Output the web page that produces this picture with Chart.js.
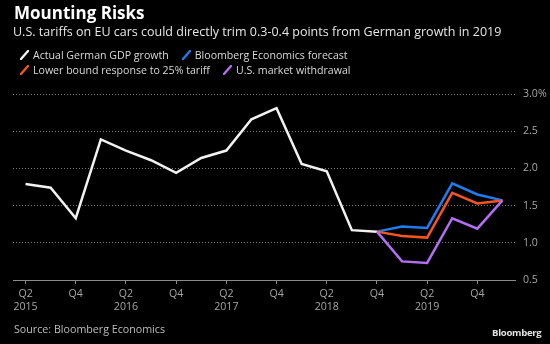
<!DOCTYPE html>
<html>
<head>
<meta charset="utf-8">
<script src="https://cdn.jsdelivr.net/npm/chart.js@4/dist/chart.umd.min.js"></script>
<style>
  html, body { margin:0; padding:0; background:#000; }
  body { width:550px; height:344px; position:relative; overflow:hidden; font-family:"Open Sans", sans-serif; }
  #chart { position:absolute; left:0; top:0; }
  .txt { position:absolute; white-space:nowrap; line-height:1; }
  #title { left:14px; top:4px; font-size:17px; font-weight:700; color:#fff; }
  #subtitle { left:13px; top:26px; font-size:12.5px; color:#e6e6e6; }
  .legRow { position:absolute; left:20px; font-size:10.6px; color:#d9d9d9; line-height:1; white-space:nowrap; }
  .legItem { display:inline-block; margin-right:13px; }
  .legItem svg { vertical-align:-1px; margin-right:4px; }
  #source { left:14px; top:324px; font-size:10.7px; color:#bdbdbd; }
  #brand { left:492px; top:328px; font-size:9.6px; font-weight:700; color:#e0e0e0; letter-spacing:-0.3px; }
</style>
</head>
<body>
<canvas id="chart" width="550" height="344"></canvas>
<div class="txt" id="title">Mounting Risks</div>
<div class="txt" id="subtitle">U.S. tariffs on EU cars could directly trim 0.3-0.4 points from German growth in 2019</div>
<div class="legRow" id="leg1" style="top:50px"></div>
<div class="legRow" id="leg2" style="top:65px"></div>
<div class="txt" id="source">Source: Bloomberg Economics</div>
<div class="txt" id="brand">Bloomberg</div>

<script>
// quarters Q2 2015 .. Q1 2020
const quarters = [
  "Q2 2015","Q3 2015","Q4 2015",
  "Q1 2016","Q2 2016","Q3 2016","Q4 2016",
  "Q1 2017","Q2 2017","Q3 2017","Q4 2017",
  "Q1 2018","Q2 2018","Q3 2018","Q4 2018",
  "Q1 2019","Q2 2019","Q3 2019","Q4 2019",
  "Q1 2020"
];

// year-on-year GDP growth, %
const actualGdp = [1.79, 1.74, 1.33, 2.39, 2.24, 2.11, 1.94, 2.14, 2.24, 2.66, 2.81, 2.06, 1.96, 1.17, 1.15,
                   null, null, null, null, null];
const beForecast = [null, null, null, null, null, null, null, null, null, null, null, null, null, null,
                    1.15, 1.22, 1.20, 1.80, 1.65, 1.57];
const lowerBound = [null, null, null, null, null, null, null, null, null, null, null, null, null, null,
                    1.15, 1.09, 1.07, 1.67, 1.53, 1.57];
const usWithdrawal = [null, null, null, null, null, null, null, null, null, null, null, null, null, null,
                      1.15, 0.75, 0.73, 1.33, 1.19, 1.57];

const yTicks = [0.5, 1.0, 1.5, 2.0, 2.5, 3.0];

const series = [
  { name: "Actual German GDP growth",           data: actualGdp,    color: "#f2f2f2", row: 1, order: 3 },
  { name: "Bloomberg Economics forecast",       data: beForecast,   color: "#1f7cf0", row: 1, order: 2 },
  { name: "Lower bound response to 25% tariff", data: lowerBound,   color: "#f4541f", row: 2, order: 1 },
  { name: "U.S. market withdrawal",             data: usWithdrawal, color: "#b36ff2", row: 2, order: 0 },
];

// legend: little slash swatches like the terminal charts
function slash(color){
  return `<svg width="9" height="10" viewBox="0 0 9 10"><line x1="1" y1="9" x2="8" y2="1" stroke="${color}" stroke-width="2.4" stroke-linecap="round"/></svg>`;
}
for (const s of series){
  const row = document.getElementById("leg" + s.row);
  row.insertAdjacentHTML("beforeend", `<span class="legItem">${slash(s.color)}${s.name}</span>`);
}

const GRID = "#7a7a7a";
const AXIS = "#8a8a8a";
const TICK_TXT = "#a6a6a6";
const font = { family: "'Open Sans', sans-serif", size: 10.6 };

new Chart(document.getElementById("chart"), {
  type: "line",
  data: {
    labels: quarters,
    datasets: series.map(s => ({
      label: s.name,
      data: s.data,
      borderColor: s.color,
      borderWidth: 2.5,
      pointRadius: 0,
      tension: 0,
      order: s.order,
      borderJoinStyle: "miter",
    }))
  },
  options: {
    responsive: false,
    animation: false,
    events: [],
    layout: { padding: { top: 94, left: 13, right: 0, bottom: 0 } },
    plugins: { legend: { display: false }, tooltip: { enabled: false } },
    scales: {
      x: {
        type: "category",
        offset: true,
        afterFit: s => { s.height = 64; },
        border: { display: true, color: AXIS, width: 1 },
        grid: { drawOnChartArea: false, drawTicks: true, tickLength: 4, color: AXIS },
        ticks: {
          autoSkip: false, maxRotation: 0, padding: 4,
          color: TICK_TXT, font,
          callback: function(v){
            const [q, yr] = this.getLabelForValue(v).split(" ");
            if (q === "Q2") return [q, yr];
            if (q === "Q4") return q;
            return null;
          }
        }
      },
      y: {
        position: "right",
        min: 0.5, max: 3.0,
        afterFit: s => { s.width = 35; },
        afterBuildTicks: s => { s.ticks = yTicks.map(v => ({ value: v })); },
        // dotted grid lines
        border: { display: true, color: "rgba(0,0,0,0)", dash: [1, 2], dashOffset: 0 },
        grid: {
          drawTicks: false,
          borderDash: [1, 2],
          color: ctx => ctx.tick && ctx.tick.value === 0.5 ? "rgba(0,0,0,0)" : GRID,
          lineWidth: 1,
        },
        ticks: {
          padding: 8, color: TICK_TXT, font,
          callback: v => v === 3 ? "3.0%" : v.toFixed(1)
        }
      }
    }
  }
});
</script>
</body>
</html>
